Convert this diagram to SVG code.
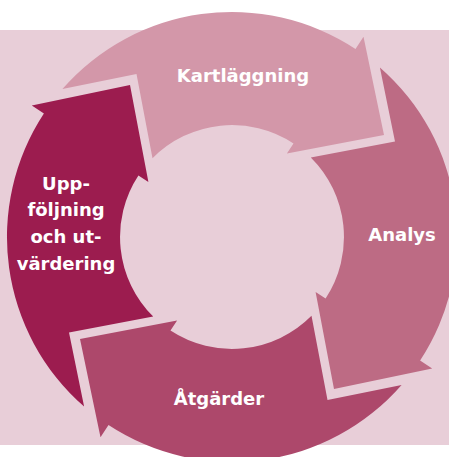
<svg xmlns="http://www.w3.org/2000/svg" xmlns:xlink="http://www.w3.org/1999/xlink" width="449" height="457" viewBox="0 0 449 457">
  <style>
    .lbl { font-family: "DejaVu Sans", "Liberation Sans", sans-serif; font-weight: bold; font-size: 18px; fill: #ffffff; text-anchor: middle; }
    .k { fill: #D397A9; }
    .a { fill: #BD6B84; }
    .g { fill: #AD486B; }
    .u { fill: #9C1C4F; }
  </style>
  <defs>
    <path id="arrow" d="M -169.6 -147.9 A 225 225 0 0 1 123.5 -188.1 L 131.5 -200.2 L 152 -102 L 54.9 -83.6 L 61.5 -93.6 A 112 112 0 0 0 -79.5 -78.8 L -95.5 -163 Z"/>
  </defs>
  <rect id="background" x="0" y="0" width="449" height="457" fill="#ffffff"/>
  <rect id="panel" x="0" y="30" width="449" height="415" fill="#E8CED8"/>
  <g id="connectors"></g>
  <g id="kartlaggning">
    <use xlink:href="#arrow" href="#arrow" class="k" transform="translate(232 237)"/>
    <text class="lbl" x="243" y="82">Kartläggning</text>
  </g>
  <g id="analys">
    <use xlink:href="#arrow" href="#arrow" class="a" transform="translate(232 237) rotate(90)"/>
    <text class="lbl" x="402" y="241">Analys</text>
  </g>
  <g id="atgarder">
    <use xlink:href="#arrow" href="#arrow" class="g" transform="translate(232 237) rotate(180)"/>
    <text class="lbl" x="219" y="405">Åtgärder</text>
  </g>
  <g id="uppfoljning">
    <use xlink:href="#arrow" href="#arrow" class="u" transform="translate(232 237) rotate(270)"/>
    <text class="lbl" x="66" y="189.5">Upp-</text>
    <text class="lbl" x="66" y="216.2">följning</text>
    <text class="lbl" x="66" y="242.9">och ut-</text>
    <text class="lbl" x="66" y="269.6">värdering</text>
  </g>
</svg>
